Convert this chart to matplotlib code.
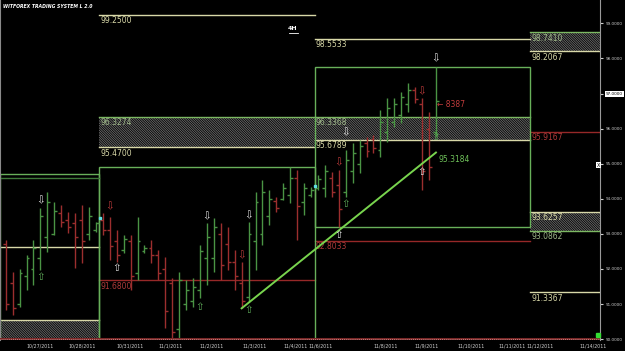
import matplotlib
matplotlib.use('Agg')
import matplotlib.pyplot as plt
from matplotlib.patches import Rectangle

# ---------------- data ----------------
highs = [92.83, 91.92, 92.00, 92.40, 92.83, 93.74, 94.20, 93.92, 93.82, 93.63,
         93.60, 93.82, 93.77, 93.35, 93.60, 93.49, 93.11, 92.97, 92.97, 93.49,
         92.68, 92.83, 92.54, 92.35, 91.74, 91.92, 91.69, 91.74, 92.68, 93.31,
         93.45, 93.31, 93.20, 92.54, 92.21, 93.35, 94.20, 94.54, 94.25, 94.06,
         94.45, 94.91, 94.82, 94.45, 94.34, 94.68, 94.96, 94.76, 94.82, 95.39,
         95.59, 95.67, 95.76, 95.82, 96.53, 96.87, 96.87, 97.04, 97.30, 97.19,
         96.87, 96.47, 97.755]
lows = [90.83, 90.69, 90.93, 91.40, 91.54, 91.97, 92.49, 92.97, 93.20, 93.02,
        92.03, 92.17, 92.83, 93.06, 92.97, 92.26, 92.21, 92.46, 91.40, 91.69,
        92.46, 92.17, 91.69, 90.32, 89.90, 89.90, 90.83, 90.93, 91.17, 91.54,
        91.92, 91.69, 91.97, 91.40, 90.88, 91.07, 91.97, 92.68, 93.25, 93.63,
        93.97, 93.88, 92.83, 93.54, 94.05, 94.25, 94.05, 94.05, 93.20, 94.05,
        94.45, 94.74, 95.19, 95.30, 95.19, 95.62, 96.05, 96.16, 96.47, 96.73,
        94.25, 94.54, 95.76]
opens = [92.70, 91.60, 91.00, 91.80, 92.00, 92.30, 92.90, 93.00, 93.60, 93.40,
         93.30, 93.40, 93.00, 93.10, 93.40, 93.10, 92.80, 92.55, 92.80, 91.90,
         92.50, 92.60, 92.40, 92.00, 91.60, 90.30, 91.00, 91.10, 91.40, 92.30,
         92.30, 93.00, 92.70, 92.20, 91.60, 91.20, 92.80, 93.00, 93.50, 93.95,
         94.00, 94.10, 94.60, 93.90, 94.10, 94.30, 94.30, 94.60, 94.40, 94.20,
         94.80, 95.00, 95.60, 95.70, 95.40, 95.90, 96.20, 96.40, 96.70, 97.10,
         96.70, 96.00, 95.90]
closes = [91.00, 90.90, 91.90, 92.30, 92.60, 93.50, 93.90, 93.65, 93.35, 93.20,
          92.90, 92.80, 93.50, 93.30, 93.10, 92.65, 92.40, 92.85, 91.80, 92.80,
          92.60, 92.40, 91.90, 90.80, 90.20, 91.70, 91.40, 91.50, 92.50, 92.90,
          93.20, 92.10, 92.20, 91.80, 91.10, 93.00, 93.90, 94.20, 94.00, 93.75,
          94.30, 94.60, 93.80, 94.30, 94.25, 94.55, 94.80, 94.20, 93.70, 95.10,
          95.30, 95.50, 95.35, 95.45, 96.20, 96.60, 96.70, 96.90, 97.10, 96.85,
          94.80, 94.90, 96.80]

date_labels = ["10/27/2011", "10/28/2011", "10/31/2011", "11/1/2011", "11/2/2011",
               "11/3/2011", "11/4/2011", "11/6/2011", "11/8/2011", "11/9/2011",
               "11/10/2011", "11/11/2011", "11/12/2011", "11/14/2011"]
date_bars = [4.94, 11.0, 17.9, 23.8, 29.7, 35.8, 41.8, 45.4, 54.8, 60.7,
             67.0, 72.9, 77.0, 84.6]

price_ticks = [90, 91, 92, 93, 94, 95, 96, 97, 98, 99]
current_price_tick = 97

# session boundaries (bar index)
session_edges = [-0.82, 13.5, 44.5, 75.5, 85.64]

# pale pivot lines
pale_sessions = [1, 2, 3, 0]
pale_levels = [99.25, 98.5533, 91.3367, 92.62]
pale_labels = ["99.2500", "98.5533", "91.3367", ""]

# red lines
red_sessions = [1, 2, 3]
red_levels = [91.68, 92.8033, 95.9167]
red_labels = ["91.6800", "92.8033", "95.9167"]

# hatched zones
zone_sessions = [1, 2, 3, 3, 0]
zone_tops = [96.3274, 96.3368, 98.7410, 93.6257, 90.547]
zone_bottoms = [95.4700, 95.6789, 98.2067, 93.0862, 89.90]
zone_top_labels = ["96.3274", "96.3368", "98.7410", "93.6257", ""]
zone_bottom_labels = ["95.4700", "95.6789", "98.2067", "93.0862", ""]
zone_green_top = [True, True, True, False, False]

# green session boxes
box_sessions = [0, 1, 2]
box_tops = [94.71, 94.90, 97.76]
box_bottoms = [89.90, 89.90, 93.205]

# trend line
trend_bars = [34.0, 62.0]
trend_prices = [90.88, 95.3184]
trend_label = "95.3184"

# signal arrows
arrow_bars = [5, 5, 15, 16, 29, 28, 34, 35, 35, 62, 60, 49, 62, 48, 60, 49, 48]
arrow_prices = [93.95, 91.76, 93.78, 92.02, 93.49, 90.93, 92.40, 93.54, 90.83,
                98.00, 97.05, 95.88, 95.77, 95.03, 94.77, 93.85, 92.97]
arrow_dirs = ["down", "up", "down", "up", "down", "up", "down", "down", "up",
              "down", "down", "down", "up", "down", "up", "up", "up"]
arrow_cols = ["w", "g", "r", "w", "w", "g", "r", "w", "g",
              "w", "r", "w", "g", "r", "w", "g", "w"]

cyan_bars = [13.59, 44.57]
cyan_prices = [93.45, 94.36]

# ---------------- style ----------------
UP = '#4a9444'
DOWN = '#9c2e2e'
PALE = '#d8d8a8'
GREEN_LINE = '#7cb862'
BOX_GREEN = '#68b05a'
RED_LINE = '#962828'
ACOL = {"w": '#e6e6e6', "g": '#5fae5a', "r": '#c23c3c'}

plt.rcParams['hatch.linewidth'] = 0.6

fig = plt.figure(figsize=(6.25, 3.51), dpi=100, facecolor='black')
ax = fig.add_axes([0, 11 / 351, 600 / 625, 340 / 351], facecolor='black')
ax.set_xlim(session_edges[0], session_edges[-1])
ax.set_ylim(89.977, 99.664)

for s, t, b, tl, bl, gt in zip(zone_sessions, zone_tops, zone_bottoms,
                               zone_top_labels, zone_bottom_labels, zone_green_top):
    x0, x1 = session_edges[s], session_edges[s + 1]
    ax.add_patch(Rectangle((x0, b), x1 - x0, t - b, facecolor='black',
                           edgecolor='#6e6e6e', lw=0, hatch='\\' * 14, zorder=1))
    ax.plot([x0, x1], [t, t], color=GREEN_LINE if gt else PALE, lw=1, zorder=2)
    ax.plot([x0, x1], [b, b], color=PALE if gt else GREEN_LINE, lw=1, zorder=2)
    if tl:
        ax.annotate(tl, (x0, t), xytext=(1, -1), textcoords='offset points',
                    va='top', ha='left', fontsize=5.5,
                    color='#9fb88a' if gt else PALE, zorder=3)
    if bl:
        ax.annotate(bl, (x0, b), xytext=(1, -1), textcoords='offset points',
                    va='top', ha='left', fontsize=5.5,
                    color=PALE if gt else '#9fb88a', zorder=3)

for s, lv, lb in zip(pale_sessions, pale_levels, pale_labels):
    x0, x1 = session_edges[s], session_edges[s + 1]
    ax.plot([x0, x1], [lv, lv], color=PALE, lw=1, zorder=2)
    if lb:
        ax.annotate(lb, (x0, lv), xytext=(1, -1), textcoords='offset points',
                    va='top', ha='left', fontsize=5.5, color=PALE, zorder=3)

for s, lv, lb in zip(red_sessions, red_levels, red_labels):
    x0, x1 = session_edges[s], session_edges[s + 1]
    ax.plot([x0, x1], [lv, lv], color=RED_LINE, lw=1, zorder=2)
    ax.annotate(lb, (x0, lv), xytext=(1, -1), textcoords='offset points',
                va='top', ha='left', fontsize=5.5, color='#b03a3a', zorder=3)

for s, t, b in zip(box_sessions, box_tops, box_bottoms):
    x0, x1 = session_edges[s], session_edges[s + 1]
    ax.add_patch(Rectangle((x0, b), x1 - x0, t - b, facecolor='none',
                           edgecolor=BOX_GREEN, lw=1, zorder=2))
ax.plot([session_edges[0], session_edges[1]], [box_tops[0] - 0.12] * 2,
        color='#3f7a3a', lw=1, zorder=2)

w = 0.42
for i, (o, h, l, c) in enumerate(zip(opens, highs, lows, closes)):
    col = UP if c >= o else DOWN
    ax.vlines(i, l, h, color=col, lw=1, zorder=4)
    ax.hlines(o, i - w, i, color=col, lw=1, zorder=4)
    ax.hlines(c, i, i + w, color=col, lw=1, zorder=4)

ax.plot(trend_bars, trend_prices, color='#78d44e', lw=1.4, zorder=5)
ax.annotate(trend_label, (trend_bars[1], trend_prices[1]), xytext=(2, -1.5),
            textcoords='offset points', va='top', ha='left', fontsize=5.5,
            color='#6fc25a', zorder=6)

ax.annotate("\u2190 8387", (62.15, 96.70), va='center', ha='left', fontsize=5.5,
            color='#c23c3c', zorder=6)

for b, p, d, c in zip(arrow_bars, arrow_prices, arrow_dirs, arrow_cols):
    ax.text(b, p, '\u21e9' if d == 'down' else '\u21e7', color=ACOL[c],
            fontsize=7.5, ha='center', va='center', zorder=7)

ax.plot(cyan_bars, cyan_prices, 's', color='#5fe0e0', ms=2, zorder=8)

ax.spines['top'].set_visible(False)
ax.spines['left'].set_color('#8a8a8a')
ax.spines['right'].set_color('#9a9a9a')
ax.spines['bottom'].set_visible(False)
ax.axhline(89.977 + 0.03, color='#7a2828', lw=2.2, zorder=9)
ax.axhline(89.977 + 0.03, color='#d8a0a0', lw=0.6, ls=(0, (1, 1.5)), zorder=10)

ax.yaxis.tick_right()
ax.set_yticks(price_ticks)
ax.set_yticklabels([f"{v:.4f}" for v in price_ticks])
ax.tick_params(axis='y', colors='#cfcfcf', labelsize=3.0, length=2, pad=2.5)
for v, lbl in zip(price_ticks, ax.get_yticklabels()):
    if v == current_price_tick:
        lbl.set_color('black')
        lbl.set_bbox(dict(facecolor='white', edgecolor='none', pad=0.6))

ax.set_xticks(date_bars)
ax.set_xticklabels(date_labels)
ax.tick_params(axis='x', colors='#cfcfcf', labelsize=3.4, length=0, pad=2.5)

ax.text(85.4, 94.96, 'X', color='black', fontsize=3.5, ha='center', va='center',
        bbox=dict(facecolor='white', edgecolor='none', pad=0.4), zorder=11)
ax.plot([85.3], [90.12], 's', color='#33dd33', ms=3.5, zorder=11, clip_on=False)

fig.text(3 / 625, 1 - 6 / 351, "WITFOREX TRADING SYSTEM L 2.0", color='white',
         fontsize=3.3, fontweight='bold', fontstyle='italic', va='center', ha='left')
fig.text(293 / 625, 1 - 29 / 351, "4H", color='white', fontsize=4.5,
         fontweight='bold', va='center', ha='center')
fig.add_artist(plt.Line2D([289 / 625, 298 / 625], [1 - 33 / 351] * 2,
                          color='white', lw=0.6))

fig.savefig('out.png', dpi=100, facecolor='black')
